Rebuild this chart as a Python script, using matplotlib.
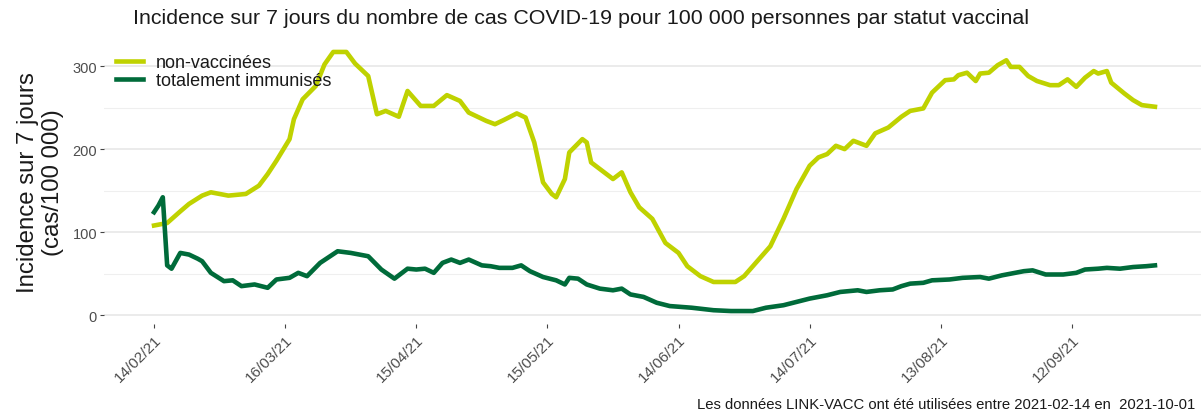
import pandas as pd
import matplotlib
matplotlib.use("Agg")
import matplotlib.pyplot as plt
import matplotlib.dates as mdates

# ============================================
# DATA
# ============================================

START = "2021-02-14"
END = "2021-10-01"

# days since START
jours_nv = [0, 3, 6, 8, 11, 13, 17, 21, 24, 26, 28, 31, 32, 34, 37, 39, 41, 44,
            46, 47, 49, 51, 53, 56, 58, 61, 64, 67, 70, 72, 76, 78, 80, 83, 85,
            87, 89, 91, 92, 94, 95, 98, 99, 100, 102, 105, 107, 109, 111, 114,
            117, 120, 122, 125, 128, 133, 135, 137, 141, 144, 147, 150, 152, 154,
            156, 158, 160, 163, 165, 168, 171, 173, 176, 178, 181, 183, 184, 186,
            188, 189, 191, 193, 195, 196, 198, 200, 202, 205, 207, 209, 211, 213,
            215, 216, 218, 219, 222, 224, 226, 229]
non_vaccinees = [108, 111, 125, 134, 144, 148, 144, 146, 156, 170, 186, 212, 236,
                 260, 276, 302, 317, 317, 303, 298, 288, 242, 246, 239, 270, 252,
                 252, 265, 258, 244, 234, 230, 235, 243, 238, 208, 160, 146, 142,
                 164, 196, 212, 208, 184, 176, 164, 172, 148, 130, 116, 87, 75, 59,
                 47, 40, 40, 47, 59, 83, 116, 152, 180, 190, 194, 204, 200, 210,
                 204, 219, 226, 239, 246, 249, 268, 283, 284, 289, 292, 282, 291,
                 292, 301, 307, 299, 299, 288, 282, 277, 277, 284, 275, 286, 294,
                 291, 294, 280, 267, 259, 253, 251]

jours_ti = [0, 1, 2, 3, 4, 6, 8, 10, 11, 13, 16, 18, 20, 23, 26, 28, 31, 33, 35,
            38, 42, 45, 47, 49, 52, 55, 58, 60, 62, 64, 66, 68, 70, 72, 75, 77,
            79, 82, 84, 86, 89, 92, 94, 95, 97, 99, 102, 105, 107, 109, 112, 115,
            118, 123, 128, 132, 137, 140, 144, 147, 150, 152, 154, 157, 161, 163,
            166, 169, 171, 173, 176, 178, 182, 185, 189, 191, 194, 197, 199, 201,
            204, 208, 211, 213, 216, 218, 221, 224, 227, 229]
totalement_immunises = [124, 132, 142, 60, 56, 75, 73, 68, 65, 51, 41, 42, 35, 37,
                        33, 43, 45, 51, 47, 63, 77, 75, 73, 71, 55, 44, 56, 55, 56,
                        51, 63, 67, 63, 67, 60, 59, 57, 57, 60, 53, 46, 42, 37, 45,
                        44, 37, 32, 30, 32, 25, 22, 15, 11, 9, 6, 5, 5, 9, 12, 16,
                        20, 22, 24, 28, 30, 28, 30, 31, 35, 38, 39, 42, 43, 45, 46,
                        44, 48, 51, 53, 54, 49, 49, 51, 55, 56, 57, 56, 58, 59, 60]

LABELS = ["non-vaccinées", "totalement immunisés"]
COLORS = ["#bfd200", "#006b3a"]

TITLE = ("Incidence sur 7 jours du nombre de cas COVID-19 pour 100 000 "
         "personnes par statut vaccinal")
CAPTION = f"Les données LINK-VACC ont été utilisées entre {START} en  {END}"

# ============================================
# PLOT
# ============================================

plt.rcParams["font.family"] = ["Liberation Sans", "DejaVu Sans"]

start = pd.Timestamp(START)
dates_nv = start + pd.to_timedelta(jours_nv, unit="D")
dates_ti = start + pd.to_timedelta(jours_ti, unit="D")

W, H = 1201, 414
fig = plt.figure(figsize=(W / 100, H / 100), dpi=100)
ax = fig.add_axes([104 / W, (H - 325) / H, (1205 - 104) / W, (325 - 40) / H])

ax.plot(dates_nv, non_vaccinees, color=COLORS[0], lw=3.3, label=LABELS[0],
        solid_joinstyle="round")
ax.plot(dates_ti, totalement_immunises, color=COLORS[1], lw=3.3, label=LABELS[1],
        solid_joinstyle="round")

ax.margins(x=0.05, y=0.05)

# axes styling (ggplot minimal-like)
for s in ax.spines.values():
    s.set_visible(False)

ax.set_yticks([0, 100, 200, 300])
ax.set_yticks([50, 150, 250], minor=True)
ax.grid(axis="y", which="major", color="#e6e6e6", lw=1.1)
ax.grid(axis="y", which="minor", color="#efefef", lw=0.8)
ax.grid(axis="x", visible=False)
ax.set_axisbelow(True)

xticks = pd.date_range(START, END, freq="30D")
ax.set_xticks(xticks)
ax.xaxis.set_major_formatter(mdates.DateFormatter("%d/%m/%y"))
ax.tick_params(axis="both", which="major", length=3, width=0.8,
               color="#444444", labelcolor="#4d4d4d", labelsize=10.5)
ax.tick_params(axis="x", labelsize=11, pad=3)
ax.tick_params(axis="y", which="minor", length=0)
ax.tick_params(axis="y", pad=2)
for lbl in ax.get_xticklabels():
    lbl.set_rotation(45)
    lbl.set_ha("right")
    lbl.set_va("top")
    lbl.set_rotation_mode("anchor")

ax.set_ylabel("Incidence sur 7 jours\n(cas/100 000)", fontsize=17.3,
              color="#1a1a1a", linespacing=1.15)
ax.yaxis.set_label_coords(-40 / 1101, 0.5)

leg = ax.legend(loc="upper left", bbox_to_anchor=(116 / W, 1 - 55 / H),
                bbox_transform=fig.transFigure, frameon=False, fontsize=13,
                handlelength=1.5, handletextpad=0.7, labelspacing=0.08,
                borderpad=0, borderaxespad=0)
for t in leg.get_texts():
    t.set_color("#1a1a1a")

fig.text(133 / W, 1 - 18 / H, TITLE, fontsize=15.4, color="#1a1a1a",
         ha="left", va="center")
fig.text(1195 / W, 1 - 405 / H, CAPTION, fontsize=10.7, color="#1a1a1a",
         ha="right", va="center")

fig.savefig("out.png", dpi=100)
plt.close(fig)
